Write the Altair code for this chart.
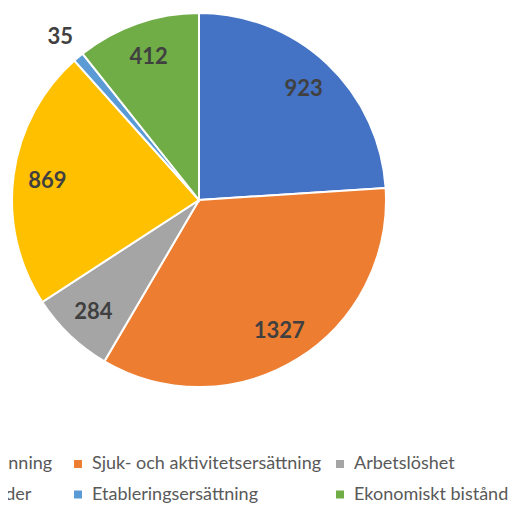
import altair as alt
import pandas as pd

categories = [
    "Sjuk-/rehabiliteringspenning",
    "Sjuk- och aktivitetsersättning",
    "Arbetslöshet",
    "Arbetsmarknads-åtgärder",
    "Etableringsersättning",
    "Ekonomiskt bistånd",
]
values = [923, 1327, 284, 869, 35, 412]
colors = ["#4472C4", "#ED7D31", "#A5A5A5", "#FFC000", "#5B9BD5", "#70AD47"]
order = [0, 1, 2, 3, 4, 5]

df = pd.DataFrame({"kategori": categories, "antal": values, "ordning": order})

CX, CY = 191, 192

base = alt.Chart(df).encode(
    theta=alt.Theta("antal:Q", stack=True),
    order=alt.Order("ordning:Q"),
    x=alt.value(CX),
    y=alt.value(CY),
)

pie = base.mark_arc(radius=187, stroke="white", strokeWidth=2).encode(
    color=alt.Color(
        "kategori:N",
        scale=alt.Scale(domain=categories, range=colors),
        sort=categories,
        legend=alt.Legend(
            orient="none",
            direction="horizontal",
            legendX=-201,
            legendY=447,
            columns=3,
            gridAlign="all",
            columnPadding=9,
            rowPadding=12.5,
            symbolType="square",
            symbolSize=64,
            symbolStrokeWidth=0,
            labelFont="Lato",
            labelFontSize=18,
            labelColor="#595959",
            labelOffset=5,
            labelLimit=0,
            title=None,
            padding=0,
        ),
    )
)

inner = base.mark_text(
    radius=153, font="Lato", fontSize=22, fontWeight="bold", color="#404040",
    align="center", baseline="middle", dy=1,
).encode(text=alt.condition("datum.antal >= 100", "antal:Q", alt.value("")))

outer = base.mark_text(
    radius=215, font="Lato", fontSize=22, fontWeight="bold", color="#404040",
    align="center", baseline="middle", dy=1,
).encode(text=alt.condition("datum.antal < 100", "antal:Q", alt.value("")))

chart = (
    alt.layer(pie, inner, outer)
    .properties(
        width=500,
        height=496,
        padding=0,
        autosize=alt.AutoSizeParams(type="none"),
    )
    .configure_view(stroke=None)
)

chart.save("out.html", embed_options={"renderer": "svg", "actions": False})
